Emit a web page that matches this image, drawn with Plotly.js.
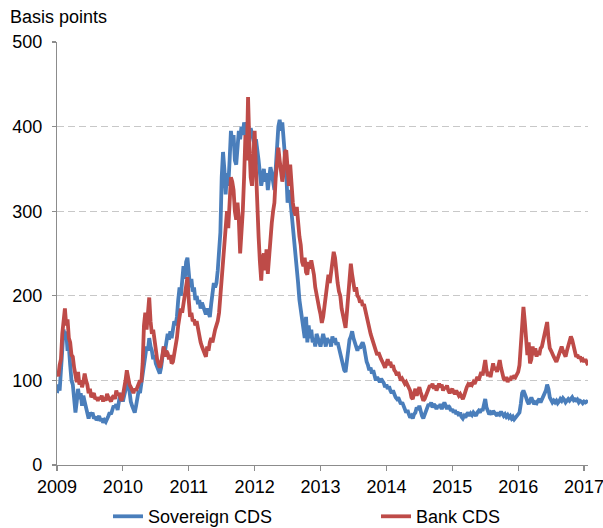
<!DOCTYPE html>
<html>
<head>
<meta charset="utf-8">
<script src="https://cdn.plot.ly/plotly-3.0.1.min.js"></script>
<style>html,body{margin:0;padding:0;background:#fff;}#chart{width:603px;height:528px;}</style>
</head>
<body>
<div id="chart"></div>
<script>
// Sampling grid: each year holds values at steps of 0.02 year, starting at the year's start
const years = [2009, 2010, 2011, 2012, 2013, 2014, 2015, 2016, 2017];
const stepYear = 0.02;

const sovereign2009 = [85,95,88,115,140,160,150,158,135,140,118,100,95,80,62,75,90,78,85,70,82,75,68,60,55,62,58,62,55,57,53,55,58,52,55,50,53,51,56,58,62,60,65,70,68,72,65,78,85,80];
const sovereign2010 = [75,82,90,95,100,85,75,70,65,62,70,80,88,85,95,105,115,130,140,135,150,140,135,125,130,120,115,112,108,115,125,140,135,150,155,148,158,150,162,170,165,175,195,210,200,225,235,220,240,245];
const sovereign2011 = [230,210,220,205,210,195,200,190,195,185,192,188,182,178,185,180,175,190,205,215,210,215,230,250,275,340,370,350,320,345,330,360,395,380,390,360,355,375,395,385,400,390,405,395,385,400,390,398,392,385];
const sovereign2012 = [378,385,375,360,345,330,340,350,335,345,325,340,352,345,335,325,350,380,400,408,395,405,385,375,345,310,325,315,300,285,270,250,235,215,195,185,175,160,150,175,145,165,150,160,145,150,140,155,150,145];
const sovereign2013 = [140,148,155,148,140,150,145,148,140,152,145,150,142,145,138,130,125,118,112,110,125,140,148,152,158,150,145,140,135,140,138,142,145,140,128,122,118,112,115,108,112,105,100,104,100,98,102,100,97,92];
const sovereign2014 = [95,90,93,88,85,88,82,80,78,80,76,72,74,68,66,62,65,60,56,58,55,60,62,68,65,70,62,58,55,60,62,68,72,70,74,68,72,70,66,70,68,72,66,70,74,70,66,70,68,64];
const sovereign2015 = [66,62,65,60,63,58,62,57,55,58,56,60,62,58,61,59,62,60,58,62,64,62,66,64,70,78,68,62,60,62,60,64,62,60,58,62,60,63,60,58,60,57,59,56,58,55,57,54,56,58];
const sovereign2016 = [60,62,72,85,88,82,80,75,72,76,80,76,72,74,73,76,78,74,77,80,84,88,95,90,80,76,74,76,74,76,73,75,78,76,79,77,74,76,78,76,78,80,77,79,75,77,74,76,75,73];
const sovereign2017 = [75,74,75,74];

const bank2009 = [110,105,118,125,155,170,185,165,172,150,145,130,128,115,108,98,110,95,100,92,98,108,100,95,85,90,80,82,85,78,80,76,80,78,82,75,80,76,84,80,78,75,80,82,78,88,82,85,80,76];
const bank2010 = [82,90,100,112,100,95,92,88,85,90,88,92,96,100,98,120,165,180,160,175,198,170,155,160,145,135,125,120,115,120,130,140,128,135,132,125,130,120,122,130,140,150,165,175,185,180,190,205,215,222];
const bank2011 = [195,175,180,170,172,165,170,160,150,145,140,135,130,128,140,135,145,150,145,155,160,165,170,180,200,215,240,260,275,300,280,310,340,335,325,300,290,310,290,250,270,300,340,390,360,435,380,340,330,370];
const bank2012 = [395,350,300,270,240,218,245,250,230,255,226,250,275,286,300,310,340,365,375,360,350,335,345,370,372,345,330,355,330,310,300,295,305,280,270,260,240,235,245,228,225,240,232,242,235,225,210,200,192,185];
const bank2013 = [178,168,175,190,205,215,225,215,230,240,252,245,225,215,205,200,185,175,168,162,180,200,215,238,225,215,205,210,200,198,192,195,188,190,182,175,168,160,155,150,145,140,135,130,133,128,125,122,118,115];
const bank2014 = [120,125,118,122,115,118,112,110,106,110,104,100,102,98,96,98,94,92,88,80,78,85,90,82,88,92,86,80,76,78,82,85,90,94,92,96,90,94,88,92,96,92,95,88,92,90,94,88,85,88];
const bank2015 = [90,86,84,88,85,82,84,80,78,82,88,92,95,93,97,95,98,96,100,104,100,106,110,106,115,124,112,105,110,104,112,120,112,116,110,118,124,115,108,102,100,104,98,102,100,105,102,106,104,108];
const bank2016 = [110,118,140,160,187,170,140,130,145,120,125,140,130,138,128,135,130,138,140,148,155,165,169,150,138,135,130,128,125,122,126,130,136,140,135,130,128,135,140,145,152,148,140,132,128,130,126,128,124,125];
const bank2017 = [122,125,120,118];

const tickYears = [2009, 2010, 2011, 2012, 2013, 2014, 2015, 2016, 2017];
const tickLabels = ['2009', '2010', '2011', '2012', '2013', '2014', '2015', '2016', '2017'];
const yTicks = [0, 100, 200, 300, 400, 500];
const seriesNames = ['Sovereign CDS', 'Bank CDS'];
const yUnit = 'Basis points';

function buildSeries(blocks) {
  const x = [], y = [];
  blocks.forEach((vals, k) => {
    vals.forEach((v, i) => { x.push(+(years[k] + i * stepYear).toFixed(2)); y.push(v); });
  });
  return {x, y};
}

const sov = buildSeries([sovereign2009, sovereign2010, sovereign2011, sovereign2012, sovereign2013, sovereign2014, sovereign2015, sovereign2016, sovereign2017]);
const bank = buildSeries([bank2009, bank2010, bank2011, bank2012, bank2013, bank2014, bank2015, bank2016, bank2017]);

const FONT = '"Liberation Sans", Arial, sans-serif';
const FS = 18;
const traces = [
  {x: sov.x, y: sov.y, type: 'scatter', mode: 'lines', name: seriesNames[0], legend: 'legend',
   line: {color: '#4a7ebb', width: 3.8}, hoverinfo: 'skip'},
  {x: bank.x, y: bank.y, type: 'scatter', mode: 'lines', name: seriesNames[1], legend: 'legend2',
   line: {color: '#be4b48', width: 3.8}, hoverinfo: 'skip'}
];

const legendBase = {orientation: 'h', xanchor: 'left', y: -0.122, yanchor: 'middle',
  font: {family: FONT, size: FS, color: '#000'}, bgcolor: 'rgba(0,0,0,0)', borderwidth: 0};

const layout = {
  width: 603, height: 528,
  margin: {l: 57, r: 15, t: 42, b: 63, autoexpand: false},
  paper_bgcolor: '#ffffff', plot_bgcolor: '#ffffff',
  font: {family: FONT, size: FS, color: '#000000'},
  showlegend: true,
  legend: Object.assign({}, legendBase, {x: 0.096}),
  legend2: Object.assign({}, legendBase, {x: 0.6008}),
  xaxis: {type: 'linear', range: [2009, 2017.06], tickvals: tickYears, ticktext: tickLabels,
          showgrid: false, zeroline: false, showline: true, linecolor: '#8c8c8c', linewidth: 1.2,
          ticks: 'outside', ticklen: 5, tickcolor: '#8c8c8c', tickwidth: 1.2, ticklabeloverflow: 'allow',
          tickfont: {family: FONT, size: FS, color: '#000'}, fixedrange: true},
  yaxis: {range: [0, 500], tickvals: yTicks, showgrid: true, gridcolor: '#c8c8c8', gridwidth: 1.2,
          griddash: '7px,4px', zeroline: false, showline: true, linecolor: '#8c8c8c', linewidth: 1.2,
          ticks: 'outside', ticklen: 4, tickcolor: '#8c8c8c', tickwidth: 1.2, ticklabelstandoff: 6,
          tickfont: {family: FONT, size: FS, color: '#000'}, fixedrange: true},
  annotations: [{text: yUnit, xref: 'paper', yref: 'paper', x: -0.092, y: 1.059,
                 xanchor: 'left', yanchor: 'middle', showarrow: false,
                 font: {family: FONT, size: FS, color: '#000'}}]
};

Plotly.newPlot('chart', traces, layout, {displayModeBar: false, staticPlot: true});
</script>
</body>
</html>
